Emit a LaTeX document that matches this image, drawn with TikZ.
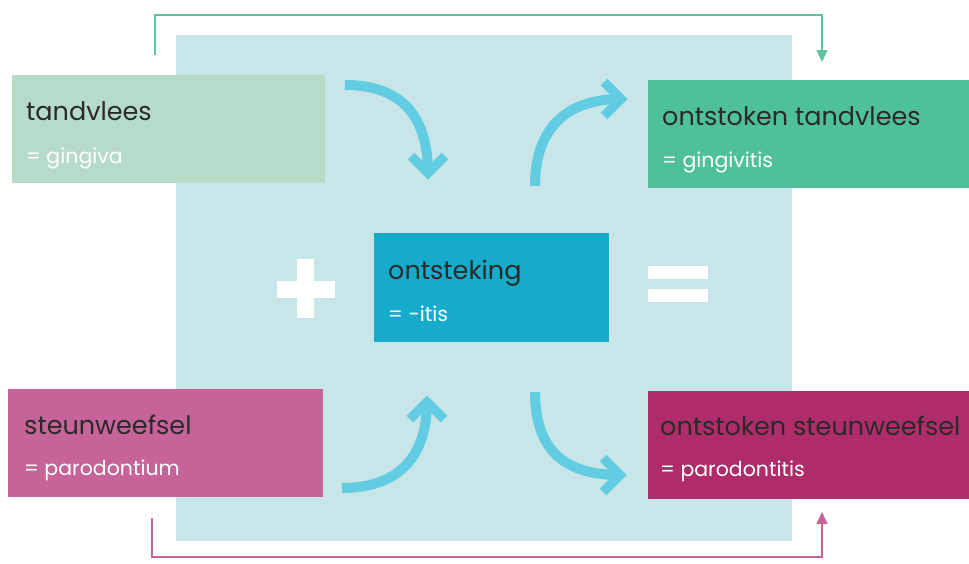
\documentclass[tikz,border=0pt]{standalone}
\usepackage{fontspec}
\setmainfont{Poppins}
\usetikzlibrary{arrows.meta,calc}
\definecolor{bgblue}{HTML}{C8E5E8}
\definecolor{gpale}{HTML}{B6DCC9}
\definecolor{gteal}{HTML}{4FC09C}
\definecolor{cmain}{HTML}{17ABCB}
\definecolor{ppink}{HTML}{C6649A}
\definecolor{pmag}{HTML}{AF2C6A}
\definecolor{arrcyan}{HTML}{62CDE2}
\definecolor{txtdark}{HTML}{2A2A2A}
\definecolor{lgreen}{HTML}{5CC4A3}
\tikzset{
  x=1pt, y=-1pt,
  termbox/.style={anchor=north west, minimum height=108pt, minimum width=#1, inner sep=0pt},
  title/.style={anchor=base west, inner sep=0pt, font=\fontsize{25.5}{28}\selectfont, text=txtdark},
  sub/.style={anchor=base west, inner sep=0pt, font=\fontsize{20.5}{24}\selectfont, text=white},
  bigarrow/.style={line width=10pt, arrcyan},
  chevron/.style={line width=9.5pt, arrcyan, line join=miter, line cap=butt},
  link/.style={line width=1.6pt, -{Triangle[length=12pt,width=11pt]}},
}
\begin{document}
\begin{tikzpicture}
\useasboundingbox (0,0) rectangle (969,563);
\fill[white] (0,0) rectangle (969,563);
\fill[bgblue] (176,35) rectangle (792,541);
% boxes
\node[termbox=313pt, fill=gpale] (tand) at (12,75) {};
\node[termbox=321pt, fill=gteal] (otand) at (648,80) {};
\node[termbox=235pt, fill=cmain, minimum height=109pt] (onts) at (374,233) {};
\node[termbox=315pt, fill=ppink] (steun) at (8,389) {};
\node[termbox=321pt, fill=pmag] (osteun) at (648,391) {};
% texts
\node[title] (tand-t) at ($(tand.north west)+(14,45)$) {tandvlees};
\node[sub] (tand-s) at ($(tand.north west)+(14,88)$) {= gingiva};
\node[title] (otand-t) at ($(otand.north west)+(14,45)$) {ontstoken tandvlees};
\node[sub] (otand-s) at ($(otand.north west)+(14,87)$) {= gingivitis};
\node[title] (onts-t) at ($(onts.north west)+(14,46)$) {ontsteking};
\node[sub] (onts-s) at ($(onts.north west)+(14,88)$) {= -itis};
\node[title] (steun-t) at ($(steun.north west)+(16,45)$) {steunweefsel};
\node[sub] (steun-s) at ($(steun.north west)+(16,86)$) {= parodontium};
\node[title] (osteun-t) at ($(osteun.north west)+(12,44)$) {ontstoken steunweefsel};
\node[sub] (osteun-s) at ($(osteun.north west)+(12,85)$) {= parodontitis};
% plus and equals
\fill[white] (277,281) rectangle (335,298);
\fill[white] (297,259) rectangle (314,318);
\fill[white] (648,266) rectangle (708,279);
\fill[white] (648,289) rectangle (708,302);
% curved arrows
\coordinate (a1s) at (345,85);
\coordinate (a1e) at (428,173);
\coordinate (a2s) at (535,186);
\coordinate (a2e) at (621,99);
\coordinate (a3s) at (342,488);
\coordinate (a3e) at (427,402);
\coordinate (a4s) at (535,392);
\coordinate (a4e) at (620,475);
\draw[bigarrow] (a1s) .. controls (405,85) and (428,120) .. (a1e);
\draw[chevron] (411,156) -- (a1e) -- (445,156);
\draw[bigarrow] (a2s) .. controls (535,125) and (570,99) .. (a2e);
\draw[chevron] (604,82) -- (a2e) -- (604,116);
\draw[bigarrow] (a3s) .. controls (400,488) and (427,455) .. (a3e);
\draw[chevron] (410,419) -- (a3e) -- (444,419);
\draw[bigarrow] (a4s) .. controls (535,455) and (570,475) .. (a4e);
\draw[chevron] (603,458) -- (a4e) -- (603,492);
% linking connectors
\coordinate (t1) at (155,55);
\coordinate (t2) at (822,15);
\coordinate (t3) at (822,62);
\draw[link, lgreen] (t1) |- (t2) -- (t3);
\coordinate (b1) at (152,518);
\coordinate (b2) at (822,557);
\coordinate (b3) at (822,512);
\draw[link, ppink] (b1) |- (b2) -- (b3);
\end{tikzpicture}
\end{document}
